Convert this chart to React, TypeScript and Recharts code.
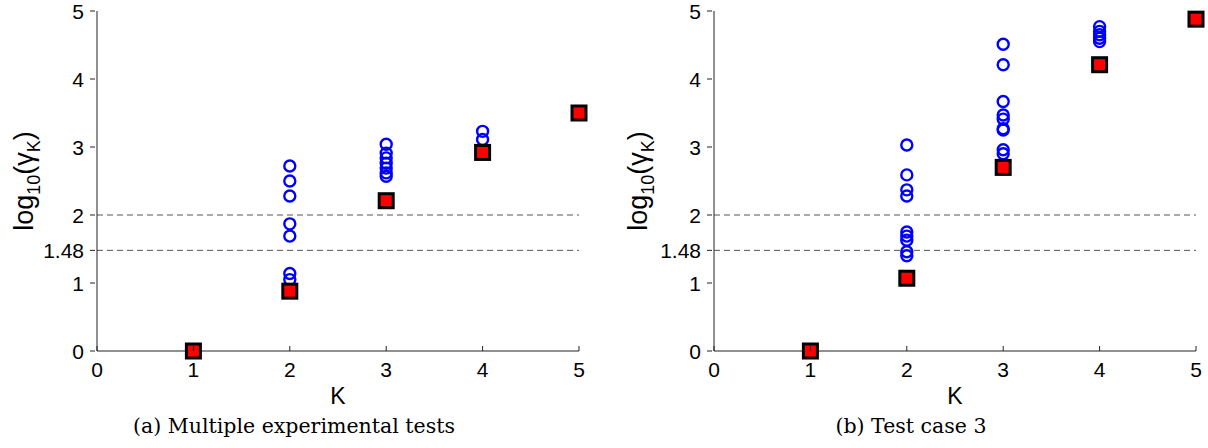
import { ScatterChart, Scatter, XAxis, YAxis, ReferenceLine } from "recharts";

// K axis and log10(gamma_K) axis
const kTicks = [0, 1, 2, 3, 4, 5];
const yTicks = [0, 1, 1.48, 2, 3, 4, 5];
const thresholds = [2, 1.48];
const bestK = [1, 2, 3, 4, 5];

// (a) multiple experimental tests
const multiK2 = [2.72, 2.5, 2.28, 1.87, 1.69, 1.14, 1.05];
const multiK3 = [3.04, 2.91, 2.84, 2.76, 2.69, 2.62, 2.57];
const multiK4 = [3.23, 3.11];
const multiBest = [0, 0.88, 2.21, 2.92, 3.5];

// (b) test case 3
const caseK2 = [3.03, 2.59, 2.37, 2.28, 1.75, 1.69, 1.63, 1.46, 1.4];
const caseK3 = [4.51, 4.21, 3.67, 3.47, 3.41, 3.27, 3.25, 2.96, 2.9];
const caseK4 = [4.77, 4.7, 4.65, 4.6, 4.55];
const caseBest = [0, 1.07, 2.7, 4.21, 4.88];

const W = 604;
const H = 448;
const AXIS = "#222";
const SANS = "Liberation Sans";

const pts = (k: number, vals: number[]) => vals.map((v) => ({ k, v }));

const Ring = (p: any) => (
  <circle cx={p.cx} cy={p.cy} r={5.5} fill="none" stroke="#0000ff" strokeWidth={2.4} />
);

const Square = (p: any) => (
  <rect x={p.cx - 7} y={p.cy - 7} width={14} height={14} fill="#ff0000" stroke="#000" strokeWidth={3} />
);

const YTick = (p: any) => (
  <g>
    <line x1={p.x} x2={p.x + 5} y1={p.y} y2={p.y} stroke={AXIS} />
    <text x={p.x - 6} y={p.y + 7.5} textAnchor="end" fontFamily={SANS} fontSize={21} fill="#000">
      {p.payload.value}
    </text>
  </g>
);

const XTick = (p: any) => (
  <g>
    <line x1={p.x} x2={p.x} y1={p.y} y2={p.y - 5} stroke={AXIS} />
    <text x={p.x} y={p.y + 26} textAnchor="middle" fontFamily={SANS} fontSize={21} fill="#000">
      {p.payload.value}
    </text>
  </g>
);

const TopTick = (p: any) => <line x1={p.x} x2={p.x} y1={p.y} y2={p.y + 5} stroke={AXIS} />;
const RightTick = (p: any) => <line x1={p.x} x2={p.x - 5} y1={p.y} y2={p.y} stroke={AXIS} />;

type PanelProps = {
  k2: number[];
  k3: number[];
  k4: number[];
  best: number[];
  left: number;
  right: number;
  yLabelX: number;
  caption: string;
  captionX: number;
};

function Panel({ k2, k3, k4, best, left, right, yLabelX, caption, captionX }: PanelProps) {
  const tests = [...pts(2, k2), ...pts(3, k3), ...pts(4, k4)];
  const squares = best.map((v, i) => ({ k: bestK[i], v }));
  const midX = (left + W - right) / 2;

  return (
    <ScatterChart width={W} height={H} margin={{ top: 11, right, bottom: 0, left: 0 }}>
      <XAxis
        dataKey="k"
        type="number"
        domain={[0, 5]}
        ticks={kTicks}
        height={97}
        tickSize={0}
        tickMargin={0}
        stroke={AXIS}
        tick={<XTick />}
        tickLine={false}
        label={{
          content: () => (
            <g>
              <text x={midX} y={404} textAnchor="middle" fontFamily={SANS} fontSize={23} fill="#000">
                K
              </text>
              <text x={captionX} y={433} textAnchor="middle" fontFamily="DejaVu Serif" fontSize={20.5} fill="#000">
                {caption}
              </text>
            </g>
          ),
        }}
      />
      <XAxis
        xAxisId="top"
        orientation="top"
        type="number"
        domain={[0, 5]}
        ticks={kTicks}
        height={0}
        tickSize={0}
        tickMargin={0}
        stroke={AXIS}
        tick={<TopTick />}
        tickLine={false}
      />
      <YAxis
        dataKey="v"
        type="number"
        domain={[0, 5]}
        ticks={yTicks}
        width={left}
        tickSize={0}
        tickMargin={7}
        stroke={AXIS}
        tick={<YTick />}
        tickLine={false}
        label={{
          content: () => (
            <text
              transform={`translate(${yLabelX},181) rotate(-90)`}
              textAnchor="middle"
              fontFamily={SANS}
              fontSize={27}
              fill="#000"
            >
              log
              <tspan fontSize={18} dy={7}>10</tspan>
              <tspan dy={-7}>(γ</tspan>
              <tspan fontSize={18} dy={7}>K</tspan>
              <tspan dy={-7}>)</tspan>
            </text>
          ),
        }}
      />
      <YAxis
        yAxisId="right"
        orientation="right"
        type="number"
        domain={[0, 5]}
        ticks={yTicks}
        width={0}
        tickSize={0}
        tickMargin={0}
        stroke={AXIS}
        tick={<RightTick />}
        tickLine={false}
      />
      {thresholds.map((t) => (
        <ReferenceLine key={t} y={t} stroke="#555" strokeDasharray="6 4" />
      ))}
      <Scatter data={tests} shape={Ring} isAnimationActive={false} />
      <Scatter data={squares} shape={Square} isAnimationActive={false} />
    </ScatterChart>
  );
}

export default function App() {
  return (
    <div style={{ position: "absolute", left: 0, top: 0, width: 1208, height: 448, background: "#fff" }}>
      <div style={{ position: "absolute", left: 0, top: 0 }}>
        <Panel
          k2={multiK2}
          k3={multiK3}
          k4={multiK4}
          best={multiBest}
          left={97}
          right={25}
          yLabelX={33}
          caption="(a) Multiple experimental tests"
          captionX={294}
        />
      </div>
      <div style={{ position: "absolute", left: W, top: 0 }}>
        <Panel
          k2={caseK2}
          k3={caseK3}
          k4={caseK4}
          best={caseBest}
          left={110}
          right={12}
          yLabelX={43}
          caption="(b) Test case 3"
          captionX={307}
        />
      </div>
    </div>
  );
}
